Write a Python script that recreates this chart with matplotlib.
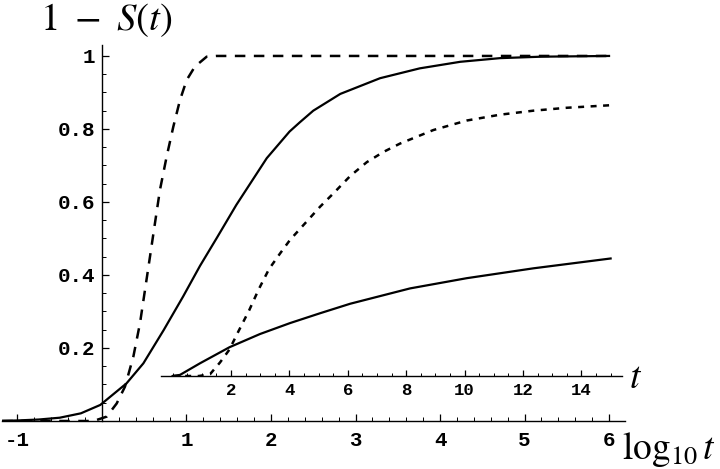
import matplotlib
matplotlib.use("Agg")
import matplotlib.pyplot as plt
from matplotlib.ticker import FixedLocator, MultipleLocator

plt.rcParams['mathtext.fontset'] = 'stix'

# main plot: 1 - S(t) against log10 t
log_t = [-1.18, -1.0, -0.75, -0.5, -0.25, -0.02, 0.29, 0.49, 0.73, 0.96, 1.16, 1.36,
         1.59, 1.95, 2.22, 2.34, 2.50, 2.82, 3.29, 3.76, 4.24, 4.71, 5.2, 5.6, 6.0]
solid_main = [0.0005, 0.0015, 0.004, 0.009, 0.021, 0.044, 0.103, 0.158, 0.249, 0.341, 0.425, 0.502,
              0.592, 0.720, 0.793, 0.818, 0.850, 0.896, 0.939, 0.966, 0.984, 0.994, 0.998, 0.999, 1.0]

log_t_dash = [-1.18, -0.5, -0.1, 0.056, 0.174, 0.272, 0.371, 0.45, 0.509, 0.568, 0.627,
              0.686, 0.765, 0.844, 0.923, 1.002, 1.10, 1.239, 1.35, 6.0]
dash_main = [0.0, 0.0, 0.0, 0.012, 0.048, 0.094, 0.176, 0.268, 0.359, 0.450, 0.542,
             0.633, 0.724, 0.806, 0.879, 0.934, 0.971, 0.998, 1.0, 1.0]

# inset: same quantity against linear t
t_solid = [0.0, 0.25, 0.94, 1.95, 2.99, 4.02, 5.05, 6.08, 8.13, 10.07, 12.35, 15.0]
solid_inset = [0.0, 0.003, 0.035, 0.079, 0.115, 0.145, 0.172, 0.198, 0.240, 0.268, 0.295, 0.322]

t_dash = [0.0, 0.9, 1.28, 1.62, 1.94, 2.25, 2.62, 2.95, 3.30, 3.68, 4.02, 4.36, 4.70,
          5.05, 5.5, 6.08, 6.65, 7.22, 7.79, 8.93, 10.07, 11.21, 12.35, 13.5, 15.0]
dash_inset = [0.0, 0.0, 0.005, 0.037, 0.072, 0.122, 0.18, 0.238, 0.293, 0.336, 0.373, 0.403, 0.433,
              0.464, 0.50, 0.548, 0.586, 0.614, 0.637, 0.674, 0.700, 0.716, 0.727, 0.735, 0.742]

main_xticks = [-1, 1, 2, 3, 4, 5, 6]
main_yticks = [0.2, 0.4, 0.6, 0.8, 1.0]
main_ylabels = ['0.2', '0.4', '0.6', '0.8', '1']
inset_xticks = [2, 4, 6, 8, 10, 12, 14]

tick_font = dict(family='Liberation Mono', weight='bold')

fig = plt.figure(figsize=(7.2, 4.69), dpi=100)

# main axes
ax = fig.add_axes([2 / 720, 48 / 469, 623 / 720, 376 / 469])
ax.plot(log_t, solid_main, color='black', lw=1.6)
ax.plot(log_t_dash, dash_main, color='black', lw=1.8, dashes=(4.2, 3.4))
ax.set_xlim(-1.183, 6.189)
ax.set_ylim(0, 1.03)

for side in ['top', 'right']:
    ax.spines[side].set_visible(False)
ax.spines['left'].set_position(('data', 0))
ax.spines['bottom'].set_position(('data', 0))
for side in ['left', 'bottom']:
    ax.spines[side].set_linewidth(1.0)

ax.xaxis.set_major_locator(FixedLocator(main_xticks))
ax.set_xticklabels([str(v) for v in main_xticks], fontsize=15, **tick_font)
ax.xaxis.set_minor_locator(MultipleLocator(0.2))
ax.yaxis.set_major_locator(FixedLocator(main_yticks))
ax.set_yticklabels(main_ylabels, fontsize=15, **tick_font)
ax.yaxis.set_minor_locator(MultipleLocator(0.05))
ax.tick_params(which='major', direction='in', length=5, width=0.9)
ax.tick_params(which='minor', direction='in', length=3, width=0.7)
ax.tick_params(axis='x', which='major', pad=7)
ax.tick_params(axis='y', which='major', pad=5)
ax.patch.set_visible(False)

# inset axes (linear t)
ins = fig.add_axes([161 / 720, 93 / 469, 461 / 720, 331 / 469])
ins.plot(t_solid, solid_inset, color='black', lw=1.6)
ins.plot(t_dash, dash_inset, color='black', lw=1.8, dashes=(2.4, 2.6))
ins.set_xlim(-0.4, 15.39)
ins.set_ylim(0, 0.907)
for side in ['top', 'right', 'left']:
    ins.spines[side].set_visible(False)
ins.spines['bottom'].set_linewidth(1.0)
ins.set_yticks([])
ins.xaxis.set_major_locator(FixedLocator(inset_xticks))
ins.set_xticklabels([str(v) for v in inset_xticks], fontsize=12.5, **tick_font)
ins.xaxis.set_minor_locator(MultipleLocator(0.5))
ins.tick_params(which='major', direction='in', length=4, width=0.9, pad=5)
ins.tick_params(which='minor', direction='in', length=2.5, width=0.7)
ins.patch.set_visible(False)

# axis labels, placed like the Mathematica original
fig.text(106 / 720, 1 - 20 / 469, r'$1\ -\ S(t)$', fontsize=28, ha='center', va='center')
fig.text(669 / 720, 1 - 449 / 469, r'$\log_{10}t$', fontsize=27, ha='center', va='center')
fig.text(636 / 720, 1 - 378 / 469, r'$t$', fontsize=27, ha='center', va='center')

fig.savefig('out.png', dpi=100)
